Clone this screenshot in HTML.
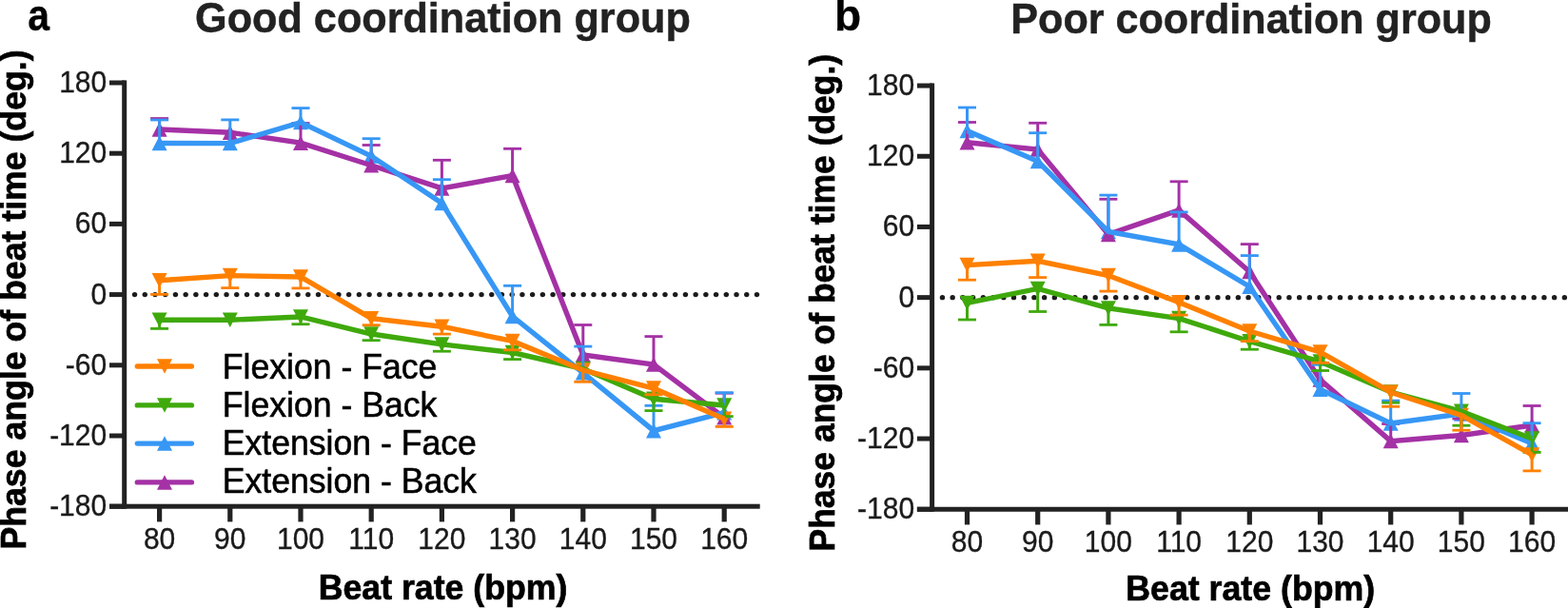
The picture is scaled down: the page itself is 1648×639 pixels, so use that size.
<!DOCTYPE html>
<html><head><meta charset="utf-8"><title>Phase angle of beat time</title>
<style>html,body{margin:0;padding:0;background:#fff;}svg{display:block;}</style>
</head><body>
<svg width="1648" height="639" viewBox="0 0 1648 639">
<rect width="1648" height="639" fill="#fff"/>
<g fill="#1c1c1c"><circle cx="141.55" cy="309.6" r="2.7"/><circle cx="152.27" cy="309.6" r="2.7"/><circle cx="162.99" cy="309.6" r="2.7"/><circle cx="173.71" cy="309.6" r="2.7"/><circle cx="184.43" cy="309.6" r="2.7"/><circle cx="195.15" cy="309.6" r="2.7"/><circle cx="205.87" cy="309.6" r="2.7"/><circle cx="216.59" cy="309.6" r="2.7"/><circle cx="227.31" cy="309.6" r="2.7"/><circle cx="238.03" cy="309.6" r="2.7"/><circle cx="248.75" cy="309.6" r="2.7"/><circle cx="259.47" cy="309.6" r="2.7"/><circle cx="270.19" cy="309.6" r="2.7"/><circle cx="280.91" cy="309.6" r="2.7"/><circle cx="291.63" cy="309.6" r="2.7"/><circle cx="302.35" cy="309.6" r="2.7"/><circle cx="313.07" cy="309.6" r="2.7"/><circle cx="323.79" cy="309.6" r="2.7"/><circle cx="334.51" cy="309.6" r="2.7"/><circle cx="345.23" cy="309.6" r="2.7"/><circle cx="355.95" cy="309.6" r="2.7"/><circle cx="366.67" cy="309.6" r="2.7"/><circle cx="377.39" cy="309.6" r="2.7"/><circle cx="388.11" cy="309.6" r="2.7"/><circle cx="398.83" cy="309.6" r="2.7"/><circle cx="409.55" cy="309.6" r="2.7"/><circle cx="420.27" cy="309.6" r="2.7"/><circle cx="430.99" cy="309.6" r="2.7"/><circle cx="441.71" cy="309.6" r="2.7"/><circle cx="452.43" cy="309.6" r="2.7"/><circle cx="463.15" cy="309.6" r="2.7"/><circle cx="473.87" cy="309.6" r="2.7"/><circle cx="484.59" cy="309.6" r="2.7"/><circle cx="495.31" cy="309.6" r="2.7"/><circle cx="506.03" cy="309.6" r="2.7"/><circle cx="516.75" cy="309.6" r="2.7"/><circle cx="527.47" cy="309.6" r="2.7"/><circle cx="538.19" cy="309.6" r="2.7"/><circle cx="548.91" cy="309.6" r="2.7"/><circle cx="559.63" cy="309.6" r="2.7"/><circle cx="570.35" cy="309.6" r="2.7"/><circle cx="581.07" cy="309.6" r="2.7"/><circle cx="591.79" cy="309.6" r="2.7"/><circle cx="602.51" cy="309.6" r="2.7"/><circle cx="613.23" cy="309.6" r="2.7"/><circle cx="623.95" cy="309.6" r="2.7"/><circle cx="634.67" cy="309.6" r="2.7"/><circle cx="645.39" cy="309.6" r="2.7"/><circle cx="656.11" cy="309.6" r="2.7"/><circle cx="666.83" cy="309.6" r="2.7"/><circle cx="677.55" cy="309.6" r="2.7"/><circle cx="688.27" cy="309.6" r="2.7"/><circle cx="698.99" cy="309.6" r="2.7"/><circle cx="709.71" cy="309.6" r="2.7"/><circle cx="720.43" cy="309.6" r="2.7"/><circle cx="731.15" cy="309.6" r="2.7"/><circle cx="741.87" cy="309.6" r="2.7"/><circle cx="752.59" cy="309.6" r="2.7"/><circle cx="763.31" cy="309.6" r="2.7"/><circle cx="774.03" cy="309.6" r="2.7"/><circle cx="784.75" cy="309.6" r="2.7"/><circle cx="795.47" cy="309.6" r="2.7"/></g>
<g fill="#222222">
<rect x="128.2" y="84.4" width="5" height="450.3"/>
<rect x="115" y="84.5" width="15.7" height="5"/>
<rect x="115" y="158.7" width="15.7" height="5"/>
<rect x="115" y="232.9" width="15.7" height="5"/>
<rect x="115" y="307.1" width="15.7" height="5"/>
<rect x="115" y="381.3" width="15.7" height="5"/>
<rect x="115" y="455.5" width="15.7" height="5"/>
<rect x="115" y="529.7" width="15.7" height="5"/>
<rect x="115" y="529.7" width="683.7" height="5"/>
<rect x="165" y="532.2" width="5.2" height="16.2"/>
<rect x="239.2" y="532.2" width="5.2" height="16.2"/>
<rect x="313.4" y="532.2" width="5.2" height="16.2"/>
<rect x="387.6" y="532.2" width="5.2" height="16.2"/>
<rect x="461.8" y="532.2" width="5.2" height="16.2"/>
<rect x="536" y="532.2" width="5.2" height="16.2"/>
<rect x="610.2" y="532.2" width="5.2" height="16.2"/>
<rect x="684.4" y="532.2" width="5.2" height="16.2"/>
<rect x="758.6" y="532.2" width="5.2" height="16.2"/>
</g>
<g font-family="'Liberation Sans', Arial, sans-serif" font-size="31.2" fill="#1a1a1a" stroke="#1a1a1a" stroke-width="0.35">
<text x="112.2" y="96.9" text-anchor="end" textLength="50.06" lengthAdjust="spacingAndGlyphs">180</text>
<text x="112.2" y="171.1" text-anchor="end" textLength="50.06" lengthAdjust="spacingAndGlyphs">120</text>
<text x="112.2" y="245.3" text-anchor="end" textLength="33.38" lengthAdjust="spacingAndGlyphs">60</text>
<text x="112.2" y="319.5" text-anchor="end" textLength="16.69" lengthAdjust="spacingAndGlyphs">0</text>
<text x="112.2" y="393.7" text-anchor="end" textLength="43.38" lengthAdjust="spacingAndGlyphs">-60</text>
<text x="112.2" y="467.9" text-anchor="end" textLength="60.06" lengthAdjust="spacingAndGlyphs">-120</text>
<text x="112.2" y="542.1" text-anchor="end" textLength="60.06" lengthAdjust="spacingAndGlyphs">-180</text>
<text x="167.6" y="577" text-anchor="middle" textLength="33.38" lengthAdjust="spacingAndGlyphs">80</text>
<text x="241.8" y="577" text-anchor="middle" textLength="33.38" lengthAdjust="spacingAndGlyphs">90</text>
<text x="316" y="577" text-anchor="middle" textLength="50.06" lengthAdjust="spacingAndGlyphs">100</text>
<text x="390.2" y="577" text-anchor="middle" textLength="47.83" lengthAdjust="spacingAndGlyphs">110</text>
<text x="464.4" y="577" text-anchor="middle" textLength="50.06" lengthAdjust="spacingAndGlyphs">120</text>
<text x="538.6" y="577" text-anchor="middle" textLength="50.06" lengthAdjust="spacingAndGlyphs">130</text>
<text x="612.8" y="577" text-anchor="middle" textLength="50.06" lengthAdjust="spacingAndGlyphs">140</text>
<text x="687" y="577" text-anchor="middle" textLength="50.06" lengthAdjust="spacingAndGlyphs">150</text>
<text x="761.2" y="577" text-anchor="middle" textLength="50.06" lengthAdjust="spacingAndGlyphs">160</text>
</g>
<g fill="#3797f5"><polygon points="159.6,158.25 175.6,158.25 167.6,142.75"/><polygon points="233.8,158.35 249.8,158.35 241.8,142.85"/><polygon points="308,136.35 324,136.35 316,120.85"/><polygon points="382.2,171.75 398.2,171.75 390.2,156.25"/><polygon points="456.4,221.15 472.4,221.15 464.4,205.65"/><polygon points="530.6,340.25 546.6,340.25 538.6,324.75"/><polygon points="604.8,399.55 620.8,399.55 612.8,384.05"/><polygon points="679,460.45 695,460.45 687,444.95"/><polygon points="753.2,441.45 769.2,441.45 761.2,425.95"/></g>
<g fill="#a431a5"><polygon points="159.6,143.75 175.6,143.75 167.6,128.25"/><polygon points="233.8,147.05 249.8,147.05 241.8,131.55"/><polygon points="308,157.95 324,157.95 316,142.45"/><polygon points="382.2,181.45 398.2,181.45 390.2,165.95"/><polygon points="456.4,205.65 472.4,205.65 464.4,190.15"/><polygon points="530.6,192.35 546.6,192.35 538.6,176.85"/><polygon points="604.8,380.75 620.8,380.75 612.8,365.25"/><polygon points="679,390.85 695,390.85 687,375.35"/><polygon points="753.2,446.55 769.2,446.55 761.2,431.05"/></g>
<g fill="#3fa90c"><polygon points="159.6,328.45 175.6,328.45 167.6,343.95"/><polygon points="233.8,328.45 249.8,328.45 241.8,343.95"/><polygon points="308,325.25 324,325.25 316,340.75"/><polygon points="382.2,343.25 398.2,343.25 390.2,358.75"/><polygon points="456.4,354.15 472.4,354.15 464.4,369.65"/><polygon points="530.6,362.75 546.6,362.75 538.6,378.25"/><polygon points="604.8,379.85 620.8,379.85 612.8,395.35"/><polygon points="679,411.55 695,411.55 687,427.05"/><polygon points="753.2,418.25 769.2,418.25 761.2,433.75"/></g>
<g fill="#ff8000"><polygon points="159.6,287.05 175.6,287.05 167.6,302.55"/><polygon points="233.8,281.85 249.8,281.85 241.8,297.35"/><polygon points="308,283.25 324,283.25 316,298.75"/><polygon points="382.2,326.95 398.2,326.95 390.2,342.45"/><polygon points="456.4,335.45 472.4,335.45 464.4,350.95"/><polygon points="530.6,350.65 546.6,350.65 538.6,366.15"/><polygon points="604.8,381.25 620.8,381.25 612.8,396.75"/><polygon points="679,400.35 695,400.35 687,415.85"/><polygon points="753.2,432.45 769.2,432.45 761.2,447.95"/></g>
<g stroke="#a431a5"><line x1="167.6" y1="136" x2="167.6" y2="124.5" stroke-width="3"/><line x1="158.1" y1="124.5" x2="177.1" y2="124.5" stroke-width="2.8"/><line x1="316" y1="150.2" x2="316" y2="129.5" stroke-width="3"/><line x1="306.5" y1="129.5" x2="325.5" y2="129.5" stroke-width="2.8"/><line x1="390.2" y1="173.7" x2="390.2" y2="152.5" stroke-width="3"/><line x1="380.7" y1="152.5" x2="399.7" y2="152.5" stroke-width="2.8"/><line x1="464.4" y1="197.9" x2="464.4" y2="168.3" stroke-width="3"/><line x1="454.9" y1="168.3" x2="473.9" y2="168.3" stroke-width="2.8"/><line x1="538.6" y1="184.6" x2="538.6" y2="156.3" stroke-width="3"/><line x1="529.1" y1="156.3" x2="548.1" y2="156.3" stroke-width="2.8"/><line x1="612.8" y1="373" x2="612.8" y2="341.5" stroke-width="3"/><line x1="603.3" y1="341.5" x2="622.3" y2="341.5" stroke-width="2.8"/><line x1="687" y1="383.1" x2="687" y2="353.6" stroke-width="3"/><line x1="677.5" y1="353.6" x2="696.5" y2="353.6" stroke-width="2.8"/><line x1="761.2" y1="438.8" x2="761.2" y2="413.2" stroke-width="3"/><line x1="751.7" y1="413.2" x2="770.7" y2="413.2" stroke-width="2.8"/></g>
<polyline points="167.6,136 241.8,139.3 316,150.2 390.2,173.7 464.4,197.9 538.6,184.6 612.8,373 687,383.1 761.2,438.8" fill="none" stroke="#a431a5" stroke-width="5.4" stroke-linejoin="miter" stroke-miterlimit="4"/>
<g stroke="#3797f5"><line x1="167.6" y1="150.5" x2="167.6" y2="126" stroke-width="3"/><line x1="158.1" y1="126" x2="177.1" y2="126" stroke-width="2.8"/><line x1="241.8" y1="150.6" x2="241.8" y2="125.9" stroke-width="3"/><line x1="232.3" y1="125.9" x2="251.3" y2="125.9" stroke-width="2.8"/><line x1="316" y1="128.6" x2="316" y2="113.6" stroke-width="3"/><line x1="306.5" y1="113.6" x2="325.5" y2="113.6" stroke-width="2.8"/><line x1="390.2" y1="164" x2="390.2" y2="145.7" stroke-width="3"/><line x1="380.7" y1="145.7" x2="399.7" y2="145.7" stroke-width="2.8"/><line x1="464.4" y1="213.4" x2="464.4" y2="188.7" stroke-width="3"/><line x1="454.9" y1="188.7" x2="473.9" y2="188.7" stroke-width="2.8"/><line x1="538.6" y1="332.5" x2="538.6" y2="300.3" stroke-width="3"/><line x1="529.1" y1="300.3" x2="548.1" y2="300.3" stroke-width="2.8"/><line x1="612.8" y1="391.8" x2="612.8" y2="364.1" stroke-width="3"/><line x1="603.3" y1="364.1" x2="622.3" y2="364.1" stroke-width="2.8"/><line x1="687" y1="452.7" x2="687" y2="426.3" stroke-width="3"/><line x1="677.5" y1="426.3" x2="696.5" y2="426.3" stroke-width="2.8"/><line x1="761.2" y1="433.7" x2="761.2" y2="412.7" stroke-width="3"/><line x1="751.7" y1="412.7" x2="770.7" y2="412.7" stroke-width="2.8"/></g>
<polyline points="167.6,150.5 241.8,150.6 316,128.6 390.2,164 464.4,213.4 538.6,332.5 612.8,391.8 687,452.7 761.2,433.7" fill="none" stroke="#3797f5" stroke-width="5.4" stroke-linejoin="miter" stroke-miterlimit="4"/>
<g stroke="#3fa90c"><line x1="167.6" y1="336.2" x2="167.6" y2="345.4" stroke-width="3"/><line x1="158.1" y1="345.4" x2="177.1" y2="345.4" stroke-width="2.8"/><line x1="316" y1="333" x2="316" y2="340.7" stroke-width="3"/><line x1="306.5" y1="340.7" x2="325.5" y2="340.7" stroke-width="2.8"/><line x1="390.2" y1="351" x2="390.2" y2="357.7" stroke-width="3"/><line x1="380.7" y1="357.7" x2="399.7" y2="357.7" stroke-width="2.8"/><line x1="464.4" y1="361.9" x2="464.4" y2="369.2" stroke-width="3"/><line x1="454.9" y1="369.2" x2="473.9" y2="369.2" stroke-width="2.8"/><line x1="538.6" y1="370.5" x2="538.6" y2="377.6" stroke-width="3"/><line x1="529.1" y1="377.6" x2="548.1" y2="377.6" stroke-width="2.8"/><line x1="687" y1="419.3" x2="687" y2="431.6" stroke-width="3"/><line x1="677.5" y1="431.6" x2="696.5" y2="431.6" stroke-width="2.8"/><line x1="761.2" y1="426" x2="761.2" y2="437.6" stroke-width="3"/><line x1="751.7" y1="437.6" x2="770.7" y2="437.6" stroke-width="2.8"/></g>
<polyline points="167.6,336.2 241.8,336.2 316,333 390.2,351 464.4,361.9 538.6,370.5 612.8,387.6 687,419.3 761.2,426" fill="none" stroke="#3fa90c" stroke-width="5.4" stroke-linejoin="miter" stroke-miterlimit="4"/>
<g stroke="#ff8000"><line x1="167.6" y1="294.8" x2="167.6" y2="309.4" stroke-width="3"/><line x1="158.1" y1="309.4" x2="177.1" y2="309.4" stroke-width="2.8"/><line x1="241.8" y1="289.6" x2="241.8" y2="302.6" stroke-width="3"/><line x1="232.3" y1="302.6" x2="251.3" y2="302.6" stroke-width="2.8"/><line x1="316" y1="291" x2="316" y2="302.9" stroke-width="3"/><line x1="306.5" y1="302.9" x2="325.5" y2="302.9" stroke-width="2.8"/><line x1="390.2" y1="334.7" x2="390.2" y2="341.7" stroke-width="3"/><line x1="380.7" y1="341.7" x2="399.7" y2="341.7" stroke-width="2.8"/><line x1="464.4" y1="343.2" x2="464.4" y2="351.1" stroke-width="3"/><line x1="454.9" y1="351.1" x2="473.9" y2="351.1" stroke-width="2.8"/><line x1="538.6" y1="358.4" x2="538.6" y2="367.8" stroke-width="3"/><line x1="529.1" y1="367.8" x2="548.1" y2="367.8" stroke-width="2.8"/><line x1="612.8" y1="389" x2="612.8" y2="401.3" stroke-width="3"/><line x1="603.3" y1="401.3" x2="622.3" y2="401.3" stroke-width="2.8"/><line x1="687" y1="408.1" x2="687" y2="414.8" stroke-width="3"/><line x1="677.5" y1="414.8" x2="696.5" y2="414.8" stroke-width="2.8"/><line x1="761.2" y1="440.2" x2="761.2" y2="448.4" stroke-width="3"/><line x1="751.7" y1="448.4" x2="770.7" y2="448.4" stroke-width="2.8"/></g>
<polyline points="167.6,294.8 241.8,289.6 316,291 390.2,334.7 464.4,343.2 538.6,358.4 612.8,389 687,408.1 761.2,440.2" fill="none" stroke="#ff8000" stroke-width="5.4" stroke-linejoin="miter" stroke-miterlimit="4"/>
<g fill="#1c1c1c"><circle cx="990.45" cy="312.65" r="2.7"/><circle cx="1001.17" cy="312.65" r="2.7"/><circle cx="1011.89" cy="312.65" r="2.7"/><circle cx="1022.61" cy="312.65" r="2.7"/><circle cx="1033.33" cy="312.65" r="2.7"/><circle cx="1044.05" cy="312.65" r="2.7"/><circle cx="1054.77" cy="312.65" r="2.7"/><circle cx="1065.49" cy="312.65" r="2.7"/><circle cx="1076.21" cy="312.65" r="2.7"/><circle cx="1086.93" cy="312.65" r="2.7"/><circle cx="1097.65" cy="312.65" r="2.7"/><circle cx="1108.37" cy="312.65" r="2.7"/><circle cx="1119.09" cy="312.65" r="2.7"/><circle cx="1129.81" cy="312.65" r="2.7"/><circle cx="1140.53" cy="312.65" r="2.7"/><circle cx="1151.25" cy="312.65" r="2.7"/><circle cx="1161.97" cy="312.65" r="2.7"/><circle cx="1172.69" cy="312.65" r="2.7"/><circle cx="1183.41" cy="312.65" r="2.7"/><circle cx="1194.13" cy="312.65" r="2.7"/><circle cx="1204.85" cy="312.65" r="2.7"/><circle cx="1215.57" cy="312.65" r="2.7"/><circle cx="1226.29" cy="312.65" r="2.7"/><circle cx="1237.01" cy="312.65" r="2.7"/><circle cx="1247.73" cy="312.65" r="2.7"/><circle cx="1258.45" cy="312.65" r="2.7"/><circle cx="1269.17" cy="312.65" r="2.7"/><circle cx="1279.89" cy="312.65" r="2.7"/><circle cx="1290.61" cy="312.65" r="2.7"/><circle cx="1301.33" cy="312.65" r="2.7"/><circle cx="1312.05" cy="312.65" r="2.7"/><circle cx="1322.77" cy="312.65" r="2.7"/><circle cx="1333.49" cy="312.65" r="2.7"/><circle cx="1344.21" cy="312.65" r="2.7"/><circle cx="1354.93" cy="312.65" r="2.7"/><circle cx="1365.65" cy="312.65" r="2.7"/><circle cx="1376.37" cy="312.65" r="2.7"/><circle cx="1387.09" cy="312.65" r="2.7"/><circle cx="1397.81" cy="312.65" r="2.7"/><circle cx="1408.53" cy="312.65" r="2.7"/><circle cx="1419.25" cy="312.65" r="2.7"/><circle cx="1429.97" cy="312.65" r="2.7"/><circle cx="1440.69" cy="312.65" r="2.7"/><circle cx="1451.41" cy="312.65" r="2.7"/><circle cx="1462.13" cy="312.65" r="2.7"/><circle cx="1472.85" cy="312.65" r="2.7"/><circle cx="1483.57" cy="312.65" r="2.7"/><circle cx="1494.29" cy="312.65" r="2.7"/><circle cx="1505.01" cy="312.65" r="2.7"/><circle cx="1515.73" cy="312.65" r="2.7"/><circle cx="1526.45" cy="312.65" r="2.7"/><circle cx="1537.17" cy="312.65" r="2.7"/><circle cx="1547.89" cy="312.65" r="2.7"/><circle cx="1558.61" cy="312.65" r="2.7"/><circle cx="1569.33" cy="312.65" r="2.7"/><circle cx="1580.05" cy="312.65" r="2.7"/><circle cx="1590.77" cy="312.65" r="2.7"/><circle cx="1601.49" cy="312.65" r="2.7"/><circle cx="1612.21" cy="312.65" r="2.7"/><circle cx="1622.93" cy="312.65" r="2.7"/><circle cx="1633.65" cy="312.65" r="2.7"/><circle cx="1644.37" cy="312.65" r="2.7"/></g>
<g fill="#222222">
<rect x="977.1" y="87.45" width="5" height="450.3"/>
<rect x="963.9" y="87.55" width="15.7" height="5"/>
<rect x="963.9" y="161.75" width="15.7" height="5"/>
<rect x="963.9" y="235.95" width="15.7" height="5"/>
<rect x="963.9" y="310.15" width="15.7" height="5"/>
<rect x="963.9" y="384.35" width="15.7" height="5"/>
<rect x="963.9" y="458.55" width="15.7" height="5"/>
<rect x="963.9" y="532.75" width="15.7" height="5"/>
<rect x="963.9" y="532.75" width="684.6" height="5"/>
<rect x="1013.9" y="535.25" width="5.2" height="16.2"/>
<rect x="1088.1" y="535.25" width="5.2" height="16.2"/>
<rect x="1162.3" y="535.25" width="5.2" height="16.2"/>
<rect x="1236.5" y="535.25" width="5.2" height="16.2"/>
<rect x="1310.7" y="535.25" width="5.2" height="16.2"/>
<rect x="1384.9" y="535.25" width="5.2" height="16.2"/>
<rect x="1459.1" y="535.25" width="5.2" height="16.2"/>
<rect x="1533.3" y="535.25" width="5.2" height="16.2"/>
<rect x="1607.5" y="535.25" width="5.2" height="16.2"/>
</g>
<g font-family="'Liberation Sans', Arial, sans-serif" font-size="31.2" fill="#1a1a1a" stroke="#1a1a1a" stroke-width="0.35">
<text x="961.1" y="99.95" text-anchor="end" textLength="50.06" lengthAdjust="spacingAndGlyphs">180</text>
<text x="961.1" y="174.15" text-anchor="end" textLength="50.06" lengthAdjust="spacingAndGlyphs">120</text>
<text x="961.1" y="248.35" text-anchor="end" textLength="33.38" lengthAdjust="spacingAndGlyphs">60</text>
<text x="961.1" y="322.55" text-anchor="end" textLength="16.69" lengthAdjust="spacingAndGlyphs">0</text>
<text x="961.1" y="396.75" text-anchor="end" textLength="43.38" lengthAdjust="spacingAndGlyphs">-60</text>
<text x="961.1" y="470.95" text-anchor="end" textLength="60.06" lengthAdjust="spacingAndGlyphs">-120</text>
<text x="961.1" y="545.15" text-anchor="end" textLength="60.06" lengthAdjust="spacingAndGlyphs">-180</text>
<text x="1016.5" y="580.05" text-anchor="middle" textLength="33.38" lengthAdjust="spacingAndGlyphs">80</text>
<text x="1090.7" y="580.05" text-anchor="middle" textLength="33.38" lengthAdjust="spacingAndGlyphs">90</text>
<text x="1164.9" y="580.05" text-anchor="middle" textLength="50.06" lengthAdjust="spacingAndGlyphs">100</text>
<text x="1239.1" y="580.05" text-anchor="middle" textLength="47.83" lengthAdjust="spacingAndGlyphs">110</text>
<text x="1313.3" y="580.05" text-anchor="middle" textLength="50.06" lengthAdjust="spacingAndGlyphs">120</text>
<text x="1387.5" y="580.05" text-anchor="middle" textLength="50.06" lengthAdjust="spacingAndGlyphs">130</text>
<text x="1461.7" y="580.05" text-anchor="middle" textLength="50.06" lengthAdjust="spacingAndGlyphs">140</text>
<text x="1535.9" y="580.05" text-anchor="middle" textLength="50.06" lengthAdjust="spacingAndGlyphs">150</text>
<text x="1610.1" y="580.05" text-anchor="middle" textLength="50.06" lengthAdjust="spacingAndGlyphs">160</text>
</g>
<g fill="#3797f5"><polygon points="1008.5,145.15 1024.5,145.15 1016.5,129.65"/><polygon points="1082.7,177.35 1098.7,177.35 1090.7,161.85"/><polygon points="1156.9,251.25 1172.9,251.25 1164.9,235.75"/><polygon points="1231.1,264.65 1247.1,264.65 1239.1,249.15"/><polygon points="1305.3,309.05 1321.3,309.05 1313.3,293.55"/><polygon points="1379.5,416.95 1395.5,416.95 1387.5,401.45"/><polygon points="1453.7,452.65 1469.7,452.65 1461.7,437.15"/><polygon points="1527.9,442.75 1543.9,442.75 1535.9,427.25"/><polygon points="1602.1,473.75 1618.1,473.75 1610.1,458.25"/></g>
<g fill="#a431a5"><polygon points="1008.5,157.55 1024.5,157.55 1016.5,142.05"/><polygon points="1082.7,164.75 1098.7,164.75 1090.7,149.25"/><polygon points="1156.9,254.15 1172.9,254.15 1164.9,238.65"/><polygon points="1231.1,228.65 1247.1,228.65 1239.1,213.15"/><polygon points="1305.3,293.25 1321.3,293.25 1313.3,277.75"/><polygon points="1379.5,406.75 1395.5,406.75 1387.5,391.25"/><polygon points="1453.7,471.35 1469.7,471.35 1461.7,455.85"/><polygon points="1527.9,465.25 1543.9,465.25 1535.9,449.75"/><polygon points="1602.1,454.75 1618.1,454.75 1610.1,439.25"/></g>
<g fill="#3fa90c"><polygon points="1008.5,310.65 1024.5,310.65 1016.5,326.15"/><polygon points="1082.7,295.65 1098.7,295.65 1090.7,311.15"/><polygon points="1156.9,316.15 1172.9,316.15 1164.9,331.65"/><polygon points="1231.1,326.85 1247.1,326.85 1239.1,342.35"/><polygon points="1305.3,350.95 1321.3,350.95 1313.3,366.45"/><polygon points="1379.5,372.25 1395.5,372.25 1387.5,387.75"/><polygon points="1453.7,404.25 1469.7,404.25 1461.7,419.75"/><polygon points="1527.9,424.55 1543.9,424.55 1535.9,440.05"/><polygon points="1602.1,453.25 1618.1,453.25 1610.1,468.75"/></g>
<g fill="#ff8000"><polygon points="1008.5,270.85 1024.5,270.85 1016.5,286.35"/><polygon points="1082.7,266.55 1098.7,266.55 1090.7,282.05"/><polygon points="1156.9,281.75 1172.9,281.75 1164.9,297.25"/><polygon points="1231.1,309.95 1247.1,309.95 1239.1,325.45"/><polygon points="1305.3,340.25 1321.3,340.25 1313.3,355.75"/><polygon points="1379.5,362.15 1395.5,362.15 1387.5,377.65"/><polygon points="1453.7,404.45 1469.7,404.45 1461.7,419.95"/><polygon points="1527.9,428.75 1543.9,428.75 1535.9,444.25"/><polygon points="1602.1,470.15 1618.1,470.15 1610.1,485.65"/></g>
<g stroke="#a431a5"><line x1="1016.5" y1="149.8" x2="1016.5" y2="128.5" stroke-width="3"/><line x1="1007" y1="128.5" x2="1026" y2="128.5" stroke-width="2.8"/><line x1="1090.7" y1="157" x2="1090.7" y2="129.3" stroke-width="3"/><line x1="1081.2" y1="129.3" x2="1100.2" y2="129.3" stroke-width="2.8"/><line x1="1164.9" y1="246.4" x2="1164.9" y2="209.3" stroke-width="3"/><line x1="1155.4" y1="209.3" x2="1174.4" y2="209.3" stroke-width="2.8"/><line x1="1239.1" y1="220.9" x2="1239.1" y2="190.8" stroke-width="3"/><line x1="1229.6" y1="190.8" x2="1248.6" y2="190.8" stroke-width="2.8"/><line x1="1313.3" y1="285.5" x2="1313.3" y2="256.6" stroke-width="3"/><line x1="1303.8" y1="256.6" x2="1322.8" y2="256.6" stroke-width="2.8"/><line x1="1461.7" y1="463.6" x2="1461.7" y2="445.5" stroke-width="3"/><line x1="1452.2" y1="445.5" x2="1471.2" y2="445.5" stroke-width="2.8"/><line x1="1535.9" y1="457.5" x2="1535.9" y2="440" stroke-width="3"/><line x1="1526.4" y1="440" x2="1545.4" y2="440" stroke-width="2.8"/><line x1="1610.1" y1="447" x2="1610.1" y2="426.5" stroke-width="3"/><line x1="1600.6" y1="426.5" x2="1619.6" y2="426.5" stroke-width="2.8"/></g>
<polyline points="1016.5,149.8 1090.7,157 1164.9,246.4 1239.1,220.9 1313.3,285.5 1387.5,399 1461.7,463.6 1535.9,457.5 1610.1,447" fill="none" stroke="#a431a5" stroke-width="5.4" stroke-linejoin="miter" stroke-miterlimit="4"/>
<g stroke="#3797f5"><line x1="1016.5" y1="137.4" x2="1016.5" y2="113" stroke-width="3"/><line x1="1007" y1="113" x2="1026" y2="113" stroke-width="2.8"/><line x1="1090.7" y1="169.6" x2="1090.7" y2="139.7" stroke-width="3"/><line x1="1081.2" y1="139.7" x2="1100.2" y2="139.7" stroke-width="2.8"/><line x1="1164.9" y1="243.5" x2="1164.9" y2="205.1" stroke-width="3"/><line x1="1155.4" y1="205.1" x2="1174.4" y2="205.1" stroke-width="2.8"/><line x1="1239.1" y1="256.9" x2="1239.1" y2="222.9" stroke-width="3"/><line x1="1229.6" y1="222.9" x2="1248.6" y2="222.9" stroke-width="2.8"/><line x1="1313.3" y1="301.3" x2="1313.3" y2="268.6" stroke-width="3"/><line x1="1303.8" y1="268.6" x2="1322.8" y2="268.6" stroke-width="2.8"/><line x1="1387.5" y1="409.2" x2="1387.5" y2="383.3" stroke-width="3"/><line x1="1378" y1="383.3" x2="1397" y2="383.3" stroke-width="2.8"/><line x1="1461.7" y1="444.9" x2="1461.7" y2="421.1" stroke-width="3"/><line x1="1452.2" y1="421.1" x2="1471.2" y2="421.1" stroke-width="2.8"/><line x1="1535.9" y1="435" x2="1535.9" y2="413.5" stroke-width="3"/><line x1="1526.4" y1="413.5" x2="1545.4" y2="413.5" stroke-width="2.8"/><line x1="1610.1" y1="466" x2="1610.1" y2="444.7" stroke-width="3"/><line x1="1600.6" y1="444.7" x2="1619.6" y2="444.7" stroke-width="2.8"/></g>
<polyline points="1016.5,137.4 1090.7,169.6 1164.9,243.5 1239.1,256.9 1313.3,301.3 1387.5,409.2 1461.7,444.9 1535.9,435 1610.1,466" fill="none" stroke="#3797f5" stroke-width="5.4" stroke-linejoin="miter" stroke-miterlimit="4"/>
<g stroke="#3fa90c"><line x1="1016.5" y1="318.4" x2="1016.5" y2="336" stroke-width="3"/><line x1="1007" y1="336" x2="1026" y2="336" stroke-width="2.8"/><line x1="1090.7" y1="303.4" x2="1090.7" y2="327.5" stroke-width="3"/><line x1="1081.2" y1="327.5" x2="1100.2" y2="327.5" stroke-width="2.8"/><line x1="1164.9" y1="323.9" x2="1164.9" y2="341.4" stroke-width="3"/><line x1="1155.4" y1="341.4" x2="1174.4" y2="341.4" stroke-width="2.8"/><line x1="1239.1" y1="334.6" x2="1239.1" y2="348.8" stroke-width="3"/><line x1="1229.6" y1="348.8" x2="1248.6" y2="348.8" stroke-width="2.8"/><line x1="1313.3" y1="358.7" x2="1313.3" y2="367.2" stroke-width="3"/><line x1="1303.8" y1="367.2" x2="1322.8" y2="367.2" stroke-width="2.8"/><line x1="1387.5" y1="380" x2="1387.5" y2="389.5" stroke-width="3"/><line x1="1378" y1="389.5" x2="1397" y2="389.5" stroke-width="2.8"/><line x1="1461.7" y1="412" x2="1461.7" y2="423.2" stroke-width="3"/><line x1="1452.2" y1="423.2" x2="1471.2" y2="423.2" stroke-width="2.8"/><line x1="1535.9" y1="432.3" x2="1535.9" y2="447.2" stroke-width="3"/><line x1="1526.4" y1="447.2" x2="1545.4" y2="447.2" stroke-width="2.8"/><line x1="1610.1" y1="461" x2="1610.1" y2="475.4" stroke-width="3"/><line x1="1600.6" y1="475.4" x2="1619.6" y2="475.4" stroke-width="2.8"/></g>
<polyline points="1016.5,318.4 1090.7,303.4 1164.9,323.9 1239.1,334.6 1313.3,358.7 1387.5,380 1461.7,412 1535.9,432.3 1610.1,461" fill="none" stroke="#3fa90c" stroke-width="5.4" stroke-linejoin="miter" stroke-miterlimit="4"/>
<g stroke="#ff8000"><line x1="1016.5" y1="278.6" x2="1016.5" y2="294.2" stroke-width="3"/><line x1="1007" y1="294.2" x2="1026" y2="294.2" stroke-width="2.8"/><line x1="1090.7" y1="274.3" x2="1090.7" y2="291.6" stroke-width="3"/><line x1="1081.2" y1="291.6" x2="1100.2" y2="291.6" stroke-width="2.8"/><line x1="1164.9" y1="289.5" x2="1164.9" y2="306.1" stroke-width="3"/><line x1="1155.4" y1="306.1" x2="1174.4" y2="306.1" stroke-width="2.8"/><line x1="1239.1" y1="317.7" x2="1239.1" y2="331.1" stroke-width="3"/><line x1="1229.6" y1="331.1" x2="1248.6" y2="331.1" stroke-width="2.8"/><line x1="1313.3" y1="348" x2="1313.3" y2="358.6" stroke-width="3"/><line x1="1303.8" y1="358.6" x2="1322.8" y2="358.6" stroke-width="2.8"/><line x1="1387.5" y1="369.9" x2="1387.5" y2="381.3" stroke-width="3"/><line x1="1378" y1="381.3" x2="1397" y2="381.3" stroke-width="2.8"/><line x1="1461.7" y1="412.2" x2="1461.7" y2="427.3" stroke-width="3"/><line x1="1452.2" y1="427.3" x2="1471.2" y2="427.3" stroke-width="2.8"/><line x1="1535.9" y1="436.5" x2="1535.9" y2="452.2" stroke-width="3"/><line x1="1526.4" y1="452.2" x2="1545.4" y2="452.2" stroke-width="2.8"/><line x1="1610.1" y1="477.9" x2="1610.1" y2="494.9" stroke-width="3"/><line x1="1600.6" y1="494.9" x2="1619.6" y2="494.9" stroke-width="2.8"/></g>
<polyline points="1016.5,278.6 1090.7,274.3 1164.9,289.5 1239.1,317.7 1313.3,348 1387.5,369.9 1461.7,412.2 1535.9,436.5 1610.1,477.9" fill="none" stroke="#ff8000" stroke-width="5.4" stroke-linejoin="miter" stroke-miterlimit="4"/>
<text x="29.3" y="32.4" font-family="'Liberation Sans', Arial, sans-serif" font-weight="bold" stroke="currentColor" stroke-width="0.3" font-size="46" fill="#000" textLength="22.8" lengthAdjust="spacingAndGlyphs">a</text>
<text x="877" y="32.3" font-family="'Liberation Sans', Arial, sans-serif" font-weight="bold" stroke="currentColor" stroke-width="0.3" font-size="46" fill="#000">b</text>
<text x="465.45" y="33.9" font-family="'Liberation Sans', Arial, sans-serif" font-weight="bold" stroke="currentColor" font-size="45" fill="#222" color="#222" stroke-width="0.45" text-anchor="middle" textLength="520.7" lengthAdjust="spacingAndGlyphs">Good coordination group</text>
<text x="1315.05" y="34.6" font-family="'Liberation Sans', Arial, sans-serif" font-weight="bold" stroke="currentColor" font-size="45" fill="#222" color="#222" stroke-width="0.45" text-anchor="middle" textLength="505.4" lengthAdjust="spacingAndGlyphs">Poor coordination group</text>
<text transform="translate(27,315) rotate(-90)" font-family="'Liberation Sans', Arial, sans-serif" font-weight="bold" stroke="currentColor" stroke-width="0.7" font-size="37" fill="#000" text-anchor="middle" textLength="525.1" lengthAdjust="spacingAndGlyphs">Phase angle of beat time (deg.)</text>
<text transform="translate(876.8,318.15) rotate(-90)" font-family="'Liberation Sans', Arial, sans-serif" font-weight="bold" stroke="currentColor" stroke-width="0.7" font-size="37" fill="#000" text-anchor="middle" textLength="522.7" lengthAdjust="spacingAndGlyphs">Phase angle of beat time (deg.)</text>
<text x="465.6" y="629.6" font-family="'Liberation Sans', Arial, sans-serif" font-weight="bold" stroke="currentColor" stroke-width="0.7" font-size="37" fill="#000" text-anchor="middle" textLength="261.8" lengthAdjust="spacingAndGlyphs">Beat rate (bpm)</text>
<text x="1314.25" y="630.8" font-family="'Liberation Sans', Arial, sans-serif" font-weight="bold" stroke="currentColor" stroke-width="0.7" font-size="37" fill="#000" text-anchor="middle" textLength="261.9" lengthAdjust="spacingAndGlyphs">Beat rate (bpm)</text>
<line x1="144.3" y1="385" x2="201.4" y2="385" stroke="#ff8000" stroke-width="5.4" stroke-linecap="round"/>
<polygon points="165,377.25 181,377.25 173,392.75" fill="#ff8000"/>
<text x="233.8" y="397.6" font-family="'Liberation Sans', Arial, sans-serif" font-size="37" fill="#000" stroke="#000" stroke-width="0.6" textLength="225.52" lengthAdjust="spacingAndGlyphs">Flexion - Face</text>
<line x1="144.3" y1="425.9" x2="201.4" y2="425.9" stroke="#3fa90c" stroke-width="5.4" stroke-linecap="round"/>
<polygon points="165,418.15 181,418.15 173,433.65" fill="#3fa90c"/>
<text x="233.8" y="438.1" font-family="'Liberation Sans', Arial, sans-serif" font-size="37" fill="#000" stroke="#000" stroke-width="0.6" textLength="225.52" lengthAdjust="spacingAndGlyphs">Flexion - Back</text>
<line x1="144.3" y1="466.1" x2="201.4" y2="466.1" stroke="#3797f5" stroke-width="5.4" stroke-linecap="round"/>
<polygon points="165,473.85 181,473.85 173,458.35" fill="#3797f5"/>
<text x="233.8" y="477.7" font-family="'Liberation Sans', Arial, sans-serif" font-size="37" fill="#000" stroke="#000" stroke-width="0.6" textLength="267.09" lengthAdjust="spacingAndGlyphs">Extension - Face</text>
<line x1="144.3" y1="506.9" x2="201.4" y2="506.9" stroke="#a431a5" stroke-width="5.4" stroke-linecap="round"/>
<polygon points="165,514.65 181,514.65 173,499.15" fill="#a431a5"/>
<text x="233.8" y="518.3" font-family="'Liberation Sans', Arial, sans-serif" font-size="37" fill="#000" stroke="#000" stroke-width="0.6" textLength="267.09" lengthAdjust="spacingAndGlyphs">Extension - Back</text>
</svg></body></html>
